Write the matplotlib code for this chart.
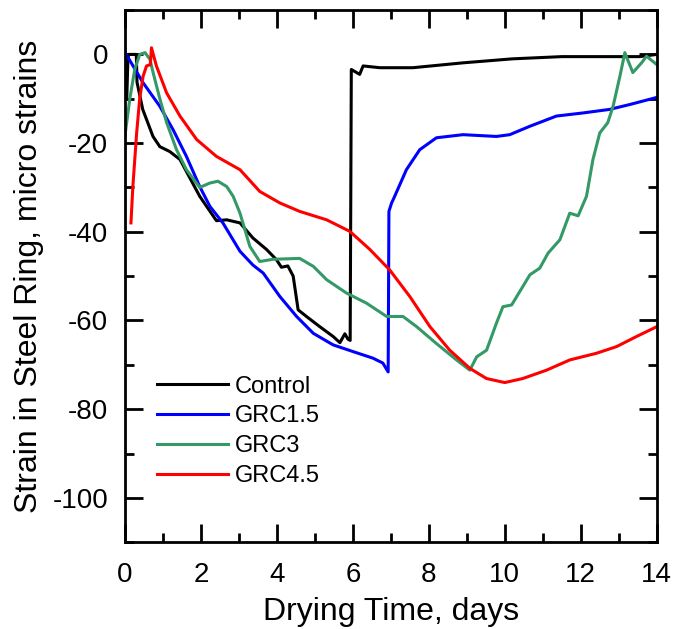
import matplotlib.pyplot as plt
import numpy as np

plt.rcParams['font.family'] = ['Liberation Sans', 'DejaVu Sans']
plt.rcParams['axes.unicode_minus'] = False

# drying time (days) and strain (micro strains)
ctrl_x = [0.05, 0.08, 0.1, 0.3, 0.32, 0.47, 0.74, 0.92, 1.18, 1.45, 1.97, 2.41, 2.68, 3.03,
          3.37, 3.73, 3.99, 4.12, 4.29, 4.43, 4.56, 4.78, 5.13, 5.48, 5.66, 5.79, 5.87, 5.93,
          5.96, 6.18, 6.27, 6.71, 7.58, 8.9, 10.2, 11.5, 13.55, 14.0]
ctrl_y = [-10, -1, 0, 0, -6.3, -12.4, -18.5, -20.8, -21.9, -23.7, -32, -37.5, -37.3, -38,
          -41.4, -44, -46.3, -48, -47.7, -50, -57.6, -59.1, -61.4, -63.6, -65, -63, -64.2, -64.5,
          -3.4, -4.5, -2.6, -3.0, -3.0, -1.9, -1.0, -0.5, -0.5, 0]

grc15_x = [0.0, 0.48, 0.92, 1.27, 1.62, 1.97, 2.24, 2.58, 3.03, 3.37, 3.64, 4.08, 4.52, 4.96,
           5.48, 6.0, 6.53, 6.79, 6.93, 6.95, 7.02, 7.06, 7.41, 7.76, 8.2, 8.9, 9.78, 10.13,
           10.66, 11.36, 12.06, 12.76, 13.29, 14.0]
grc15_y = [0.5, -6.4, -11.7, -17, -23, -29.8, -34.3, -38, -44.4, -47.5, -49.3, -54.6, -59.1, -62.9,
           -65.5, -67, -68.5, -69.6, -71.6, -35.4, -33.5, -32.8, -26, -21.5, -18.8, -18.1, -18.5, -18.1,
           -16.2, -13.9, -13.2, -12.4, -11.3, -9.7]

grc3_x = [0.0, 0.13, 0.26, 0.39, 0.53, 0.66, 0.74, 0.92, 1.1, 1.36, 1.62, 1.97, 2.24, 2.45,
          2.68, 2.85, 3.03, 3.29, 3.55, 3.9, 4.6, 4.96, 5.31, 5.83, 6.36, 6.89, 7.32, 7.68,
          8.2, 8.73, 9.08, 9.26, 9.52, 9.78, 9.95, 10.18, 10.47, 10.66, 10.92, 11.14, 11.45,
          11.71, 11.93, 12.15, 12.32, 12.5, 12.71, 12.85, 13.03, 13.16, 13.37, 13.6, 13.73, 14.0]
grc3_y = [-18.5, -10, -3.4, 0, 0.4, -1.1, -4, -10, -15.4, -21.5, -26, -30, -29, -28.6,
          -29.8, -32, -35.8, -43.3, -46.7, -46.2, -46, -47.8, -50.8, -53.8, -56.1, -59.1, -59.1, -61.4,
          -65.2, -68.9, -71.2, -68.2, -66.7, -60.6, -56.9, -56.5, -52.4, -49.7, -48.2, -44.8, -41.8,
          -35.8, -36.4, -32, -23.7, -17.7, -15.4, -11.7, -4.9, 0.4, -4.1, -1.9, -0.4, -2.3]

grc45_x = [0.16, 0.21, 0.31, 0.39, 0.48, 0.57, 0.67, 0.7, 0.83, 1.1, 1.45, 1.89, 2.41, 3.03,
           3.55, 4.08, 4.6, 5.31, 5.92, 6.45, 6.97, 7.5, 8.03, 8.55, 9.08, 9.52, 10.0, 10.47,
           11.1, 11.71, 12.41, 12.94, 13.47, 14.0]
grc45_y = [-38, -29.8, -17.7, -10, -4.9, -2.6, -2.3, 1.5, -2.6, -8.7, -13.9, -19.2, -23, -26,
           -30.9, -33.5, -35.4, -37.3, -39.9, -44, -48.6, -54.6, -61.4, -66.7, -70.8, -73.1, -74, -73.1,
           -71.2, -68.9, -67.4, -65.9, -63.6, -61.4]

fig = plt.figure(figsize=(6.75, 6.29), dpi=100)
ax = fig.add_axes([0.185, 0.138, 0.788, 0.846])

lw = 2.2
ax.plot(ctrl_x, ctrl_y, color='black', lw=lw, label='Control')
ax.plot(grc15_x, grc15_y, color='#0000ff', lw=lw, label='GRC1.5')
ax.plot(grc3_x, grc3_y, color='#339966', lw=lw, label='GRC3')
ax.plot(grc45_x, grc45_y, color='#ff0000', lw=lw, label='GRC4.5')

ax.set_xlim(0, 14)
ax.set_ylim(-110, 10)
ax.set_xticks(np.arange(0, 15, 2))
ax.set_xticks(np.arange(0, 15, 1), minor=True)
ax.set_yticks(np.arange(-100, 1, 20))
ax.set_yticks(np.arange(-110, 11, 10), minor=True)
ax.tick_params(which='both', direction='in', top=True, right=True, width=2, labelsize=20)
ax.tick_params(which='major', length=13)
ax.tick_params(axis='x', which='major', pad=14)
ax.tick_params(axis='y', which='major', pad=12)
ax.tick_params(which='minor', length=6.5)
for s in ax.spines.values():
    s.set_linewidth(2)

ax.set_xlabel('Drying Time, days', fontsize=23, labelpad=7)
ax.set_ylabel('Strain in Steel Ring, micro strains', fontsize=23, labelpad=6)

ax.legend(loc='upper left', bbox_to_anchor=(0.06, 0.313), frameon=False, fontsize=17,
          handlelength=3, handletextpad=0.3, labelspacing=0.33, borderpad=0, borderaxespad=0)

fig.savefig('out.png', dpi=100)
